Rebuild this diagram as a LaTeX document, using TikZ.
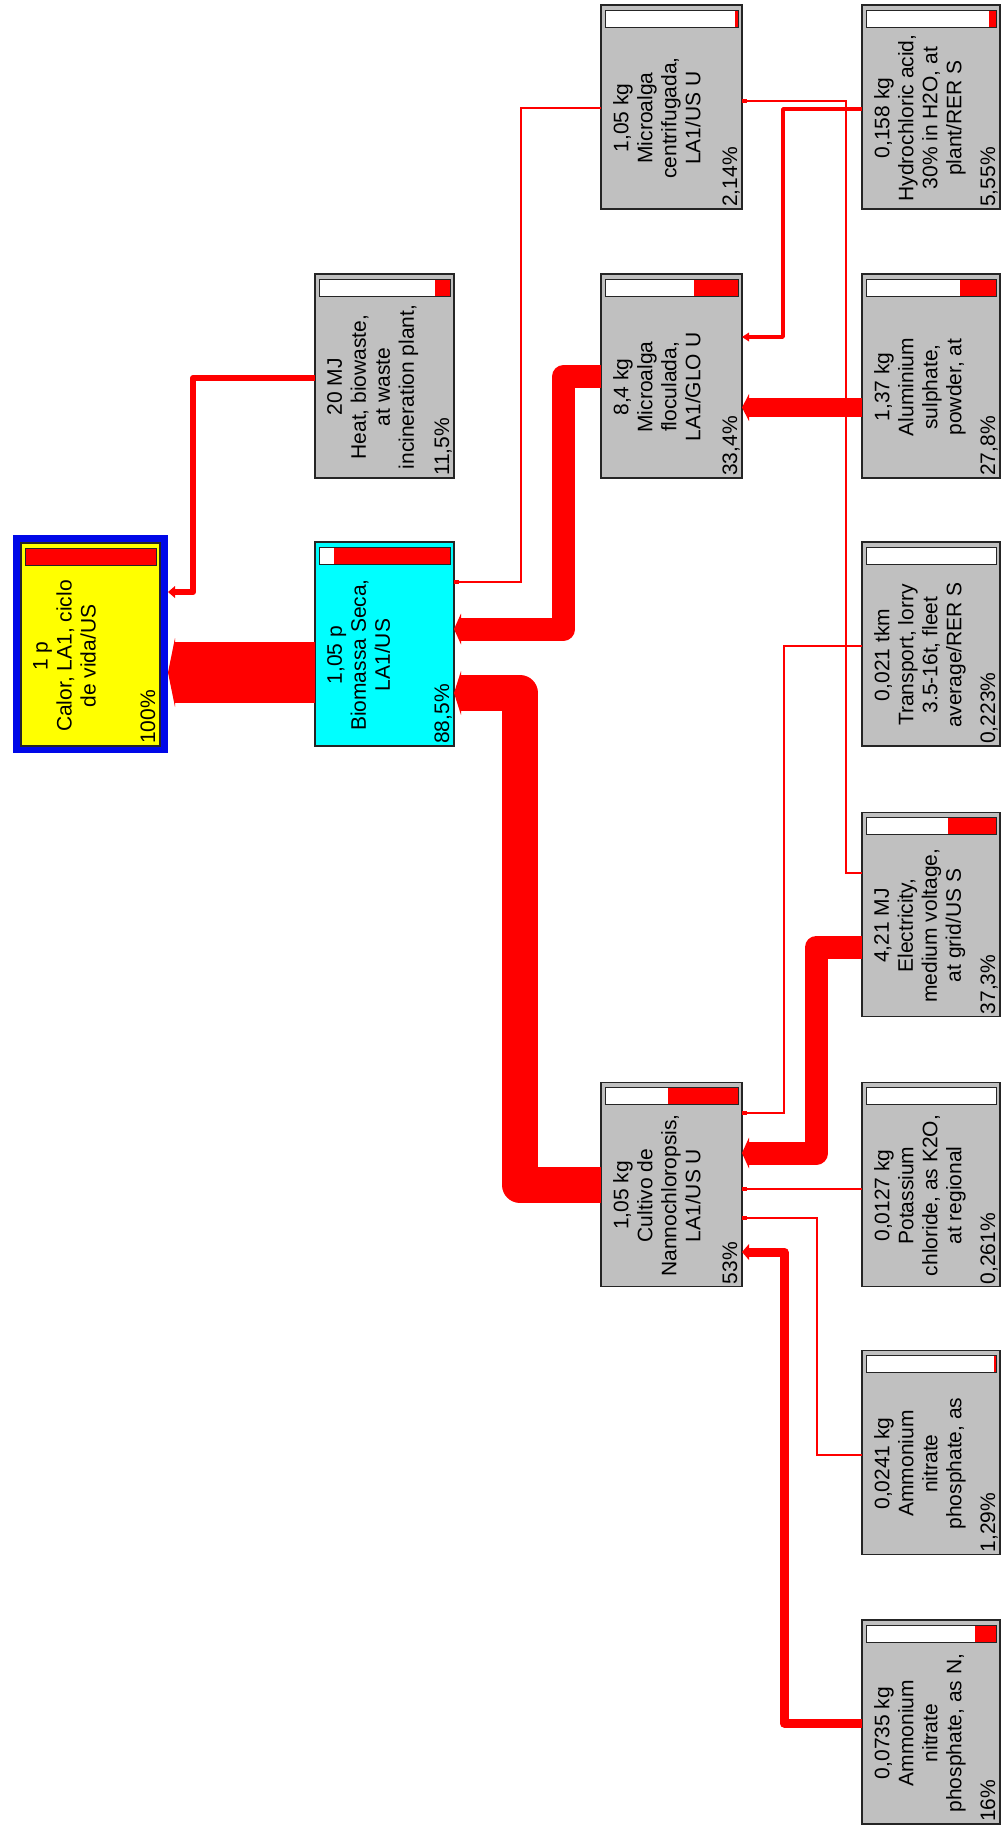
\documentclass[tikz,border=0pt]{standalone}
\usepackage{fontspec}
\setmainfont{Liberation Sans}
\usetikzlibrary{arrows.meta,calc}
\definecolor{boxgray}{HTML}{C0C0C0}
\definecolor{edgecol}{HTML}{252525}
\definecolor{flowred}{HTML}{FF0000}
\definecolor{calorblue}{HTML}{0008E8}
\definecolor{biocyan}{HTML}{00FFFF}
\definecolor{caloryellow}{HTML}{FFFF00}

% percentage bar at the top of a process box: #1 node, #2 fraction
\newcommand\pbar[2]{%
  \fill[white] ([shift={(4,5)}]#1.north west) rectangle ([shift={(-4,22)}]#1.north east);
  \fill[flowred] let \p1=([shift={(4,5)}]#1.north west), \p2=([shift={(-4,22)}]#1.north east) in
    ({\x2-#2*\x2+#2*\x1},\y1) rectangle (\x2,\y2);
  \draw[edgecol, line width=1pt] ([shift={(4,5)}]#1.north west) rectangle ([shift={(-4,22)}]#1.north east);
}
% texts of a process box: #1 node, #2 lines, #3 percentage
\newcommand\ptexts[3]{%
  \node[ctext] (#1-t) at ($(#1.north west)+(12,113)$) {#2};
  \node[ptext] (#1-p) at ($(#1.south east)+(-5,-2)$) {#3};
}

\begin{document}
\begin{tikzpicture}[x=1pt,y=-1pt,
  proc/.style={draw=edgecol, line width=1.5pt, fill=boxgray, inner sep=0pt, outer sep=0pt, minimum height=204pt},
  colA/.style={minimum width=139pt},
  colB/.style={minimum width=141pt},
  colC/.style={minimum width=138pt},
  ctext/.style={rotate=90, anchor=north, align=center, inner sep=0pt, font=\fontsize{21}{24}\selectfont},
  ptext/.style={rotate=90, anchor=base west, inner sep=0pt, font=\fontsize{21}{24}\selectfont},
  flow/.style 2 args={draw=flowred, line join=round, line width=#1, -{Triangle[length=7pt, width=#2, line width=0pt]}},
  thinflow/.style={draw=flowred, line width=1.5pt, -{Rectangle[length=5pt, width=4pt]}},
]
\fill[white] (0,0) rectangle (1001,1831);
\useasboundingbox (0,0) rectangle (1001,1831);

% ---- root ----
\node[fill=calorblue, inner sep=0pt, outer sep=0pt, minimum width=155pt, minimum height=218pt] (calor) at (90.5,644) {};
\node[proc, fill=caloryellow, minimum width=139pt, minimum height=203pt, line width=1.2pt] (calorin) at (90.5,644.5) {};

% ---- column 2 ----
\node[proc, colA] (heat) at (384.5,376) {};
\node[proc, colA, fill=biocyan] (bio) at (384.5,644) {};

% ---- column 3 ----
\node[proc, colB] (cent) at (671.5,107) {};
\node[proc, colB] (floc) at (671.5,376) {};
\node[proc, colB] (cult) at (671.5,1184.5) {};

% ---- column 4 ----
\node[proc, colC] (hcl)   at (931,107) {};
\node[proc, colC] (alum)  at (931,376) {};
\node[proc, colC] (trans) at (931,644) {};
\node[proc, colC] (elec)  at (931,914.5) {};
\node[proc, colC] (pot)   at (931,1184.5) {};
\node[proc, colC] (amma)  at (931,1452.5) {};
\node[proc, colC] (ammb)  at (931,1722) {};

% ---- bars ----
\pbar{calorin}{1}
\pbar{heat}{0.115}
\pbar{bio}{0.885}
\pbar{cent}{0.0214}
\pbar{floc}{0.334}
\pbar{cult}{0.53}
\pbar{hcl}{0.0555}
\pbar{alum}{0.278}
\pbar{trans}{0.00223}
\pbar{elec}{0.373}
\pbar{pot}{0.00261}
\pbar{amma}{0.0129}
\pbar{ammb}{0.16}

% ---- texts ----
\ptexts{calorin}{1 p\\Calor, LA1, ciclo\\de vida/US}{100\%}
\ptexts{heat}{20 MJ\\Heat, biowaste,\\at waste\\incineration plant,}{11,5\%}
\ptexts{bio}{1,05 p\\Biomassa Seca,\\LA1/US}{88,5\%}
\ptexts{cent}{1,05 kg\\Microalga\\centrifugada,\\LA1/US U}{2,14\%}
\ptexts{floc}{8,4 kg\\Microalga\\floculada,\\LA1/GLO U}{33,4\%}
\ptexts{cult}{1,05 kg\\Cultivo de\\Nannochloropsis,\\LA1/US U}{53\%}
\ptexts{hcl}{0,158 kg\\Hydrochloric acid,\\30\% in H2O, at\\plant/RER S}{5,55\%}
\ptexts{alum}{1,37 kg\\Aluminium\\sulphate,\\powder, at}{27,8\%}
\ptexts{trans}{0,021 tkm\\Transport, lorry\\3.5-16t, fleet\\average/RER S}{0,223\%}
\ptexts{elec}{4,21 MJ\\Electricity,\\medium voltage,\\at grid/US S}{37,3\%}
\ptexts{pot}{0,0127 kg\\Potassium\\chloride, as K2O,\\at regional}{0,261\%}
\ptexts{amma}{0,0241 kg\\Ammonium\\nitrate\\phosphate, as}{1,29\%}
\ptexts{ammb}{0,0735 kg\\Ammonium\\nitrate\\phosphate, as N,}{16\%}

% ---- thick flows ----
\draw[flow={61pt}{69pt}] (bio.west |- 0,672.5) -- (calor.east |- 0,672.5);
\draw[flow={6pt}{12pt}] (heat.west |- 0,378) -| (193,592) -- (calor.east |- 0,592);
\draw[flow={36pt}{44pt}] (cult.west |- 0,1185) -| (520,693) -- (bio.east |- 0,693);
\draw[flow={23pt}{31pt}] (floc.west |- 0,376.5) -| (563.5,629) -- (bio.east |- 0,629);
\draw[flow={19pt}{27pt}] (alum.west |- 0,407.5) -- (floc.east |- 0,407.5);
\draw[flow={3.5pt}{9pt}] (hcl.west |- 0,109) -| (783,337) -- (floc.east |- 0,337);
\draw[flow={23pt}{31pt}] (elec.west |- 0,947) -| (816.5,1153) -- (cult.east |- 0,1153);
\draw[flow={9pt}{16pt}] (ammb.west |- 0,1723) -| (784,1252) -- (cult.east |- 0,1252);

% ---- thin flows ----
\draw[thinflow] (cent.west |- 0,108) -| (521,582) -- (bio.east |- 0,582);
\draw[thinflow] (elec.west |- 0,873) -| (846,101) -- (cent.east |- 0,101);
\draw[thinflow] (trans.west |- 0,646) -| (784,1113) -- (cult.east |- 0,1113);
\draw[thinflow] (pot.west |- 0,1189) -- (cult.east |- 0,1189);
\draw[thinflow] (amma.west |- 0,1455) -| (817,1218) -- (cult.east |- 0,1218);
\end{tikzpicture}
\end{document}
